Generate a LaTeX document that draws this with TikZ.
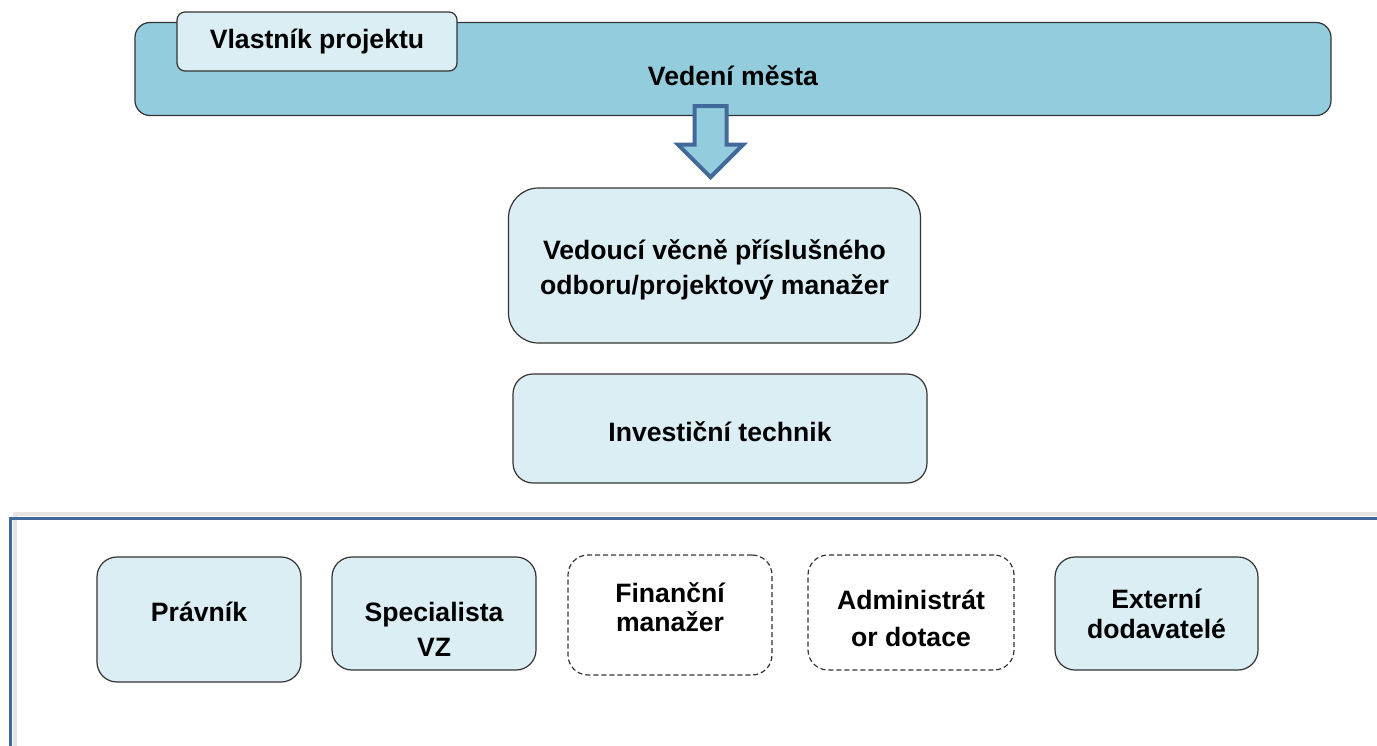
\documentclass[tikz,border=0pt]{standalone}
\usepackage{fontspec}
\setmainfont{Liberation Sans}
\usetikzlibrary{shapes.arrows}
\definecolor{tmava}{HTML}{93CDDD}
\definecolor{svetla}{HTML}{DBEEF4}
\definecolor{modra}{HTML}{41699A}
\definecolor{okraj}{HTML}{333333}
\tikzset{box/.style={rectangle, rounded corners=10pt, draw=okraj, fill=svetla,
line width=0.6pt, inner sep=0pt},
dashbox/.style={box, fill=white, dash pattern=on 2.5pt off 1.5pt},
txt/.style={align=center, inner sep=0pt,
font=\fontsize{13.3}{17.5}\selectfont\bfseries},
sipka/.style={single arrow, draw=modra, fill=tmava, line width=2pt,
inner sep=7pt, shape border rotate=270},
panel/.style={draw=modra, line width=1.5pt}}

\begin{document}
\begin{tikzpicture}[x=0.5pt, y=-0.5pt]
  \useasboundingbox (0,0) rectangle (1377,745);

  % spodni panel se specialisty
  \draw [gray!20, line width=2pt] (15,800) -- (15,514) -- (1420,514);
  \draw [panel] (10,518) rectangle (1420,800);

  % vedeni mesta
  \node (mesto) [box, fill=tmava, rounded corners=7.5pt,
    minimum width=598pt, minimum height=46.5pt,
    label={[txt, yshift=-3.5pt]center:Vedení města}] at (733,69) {};
  \node (vlastnik) [box, rounded corners=4pt, minimum width=140pt,
    minimum height=29.5pt] at (317,41.5) [txt] {Vlastník projektu};

  \node (sipka) [sipka, minimum height=35.5pt, minimum width=30.5pt,
    single arrow head extend=8.25pt, anchor=tip] at (710.5,180) {};

  \node (vedouci) [box, rounded corners=15pt, minimum width=206pt,
    minimum height=77.5pt,
    label={[txt, yshift=-2pt]center:Vedoucí věcně příslušného\\odboru/projektový manažer}]
    at (714.5,265.5) {};
  \node (technik) [box, minimum width=207pt, minimum height=54.5pt,
    label={[txt, yshift=-1.75pt]center:Investiční technik}] at (720,428.5) {};

  % specialiste
  \node (pravnik) [box, minimum width=102pt, minimum height=62.5pt,
    label={[txt, yshift=3.75pt]center:Právník}] at (199,619.5) {};
  \node (specialista) [box, minimum width=102pt, minimum height=56.5pt,
    label={[txt, yshift=-8pt]center:Specialista\\VZ}] at (434,613.5) {};
  \node (financni) [dashbox, minimum width=102pt, minimum height=60pt,
    label={[txt, yshift=3.75pt, font=\fontsize{13.3}{14.5}\selectfont\bfseries]center:Finanční\\manažer}]
    at (670,615) {};
  \node (administrator) [dashbox, minimum width=103pt, minimum height=57.5pt,
    label={[txt, yshift=-3pt, font=\fontsize{13.3}{18.5}\selectfont\bfseries]center:Administrát\\or dotace}]
    at (911,612.5) {};
  \node (externi) [box, minimum width=101.5pt, minimum height=56.5pt,
    label={[txt, font=\fontsize{13.3}{15}\selectfont\bfseries]center:Externí\\dodavatelé}]
    at (1156.5,613.5) {};
\end{tikzpicture}
\end{document}
